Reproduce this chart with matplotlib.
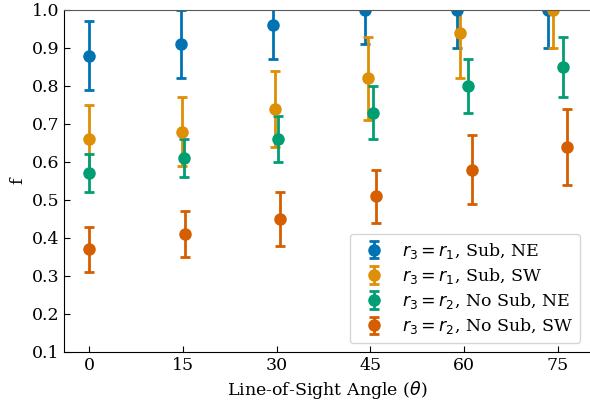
import matplotlib
matplotlib.use("Agg")
import matplotlib.pyplot as plt
import numpy as np

plt.rcParams["font.family"] = "DejaVu Serif"
plt.rcParams["font.size"] = 12.5
plt.rcParams["mathtext.fontset"] = "dejavusans"

angles = np.array([0, 15, 30, 45, 60, 75])

labels = [
    r"$r_3 = r_1$, Sub, NE",
    r"$r_3 = r_1$, Sub, SW",
    r"$r_3 = r_2$, No Sub, NE",
    r"$r_3 = r_2$, No Sub, SW",
]
f_sub_ne = [0.88, 0.91, 0.96, 1.00, 1.00, 1.00]
err_sub_ne = [0.09, 0.09, 0.09, 0.09, 0.10, 0.10]
f_sub_sw = [0.66, 0.68, 0.74, 0.82, 0.94, 1.00]
err_sub_sw = [0.09, 0.09, 0.10, 0.11, 0.12, 0.10]
f_nosub_ne = [0.57, 0.61, 0.66, 0.73, 0.80, 0.85]
err_nosub_ne = [0.05, 0.05, 0.06, 0.07, 0.07, 0.08]
f_nosub_sw = [0.37, 0.41, 0.45, 0.51, 0.58, 0.64]
err_nosub_sw = [0.06, 0.06, 0.07, 0.07, 0.09, 0.10]

series = [
    (f_sub_ne, err_sub_ne),
    (f_sub_sw, err_sub_sw),
    (f_nosub_ne, err_nosub_ne),
    (f_nosub_sw, err_nosub_sw),
]
colors = ["#0173b2", "#de8f05", "#029e73", "#d55e00"]
# small multiplicative dodge so the points at the same angle don't overlap
dodge = [0.98, 0.99, 1.01, 1.02]

fig = plt.figure(figsize=(5.90, 4.03), dpi=100)
ax = fig.add_axes([64 / 590, 1 - 352 / 403, 527 / 590, 342 / 403])

for (vals, errs), lab, col, d in zip(series, labels, colors, dodge):
    ax.errorbar(angles * d, vals, yerr=errs, fmt="o", color=col, ms=8,
                elinewidth=2, capsize=3.5, capthick=2, label=lab)

ax.set_xlim(-4, 80.3)
ax.set_ylim(0.1, 1.0)
ax.set_xticks(angles)
ax.set_yticks(np.arange(0.1, 1.01, 0.1))
ax.tick_params(direction="in", length=4)
ax.spines["right"].set_visible(False)
ax.spines["top"].set_color("0.35")
ax.set_xlabel(r"Line-of-Sight Angle ($\theta$)")
ax.set_ylabel("f")
ax.legend(loc="lower right", labelspacing=0.3, handletextpad=0.6,
          bbox_to_anchor=(0.996, 0.0))

fig.savefig("out.png", dpi=100)
